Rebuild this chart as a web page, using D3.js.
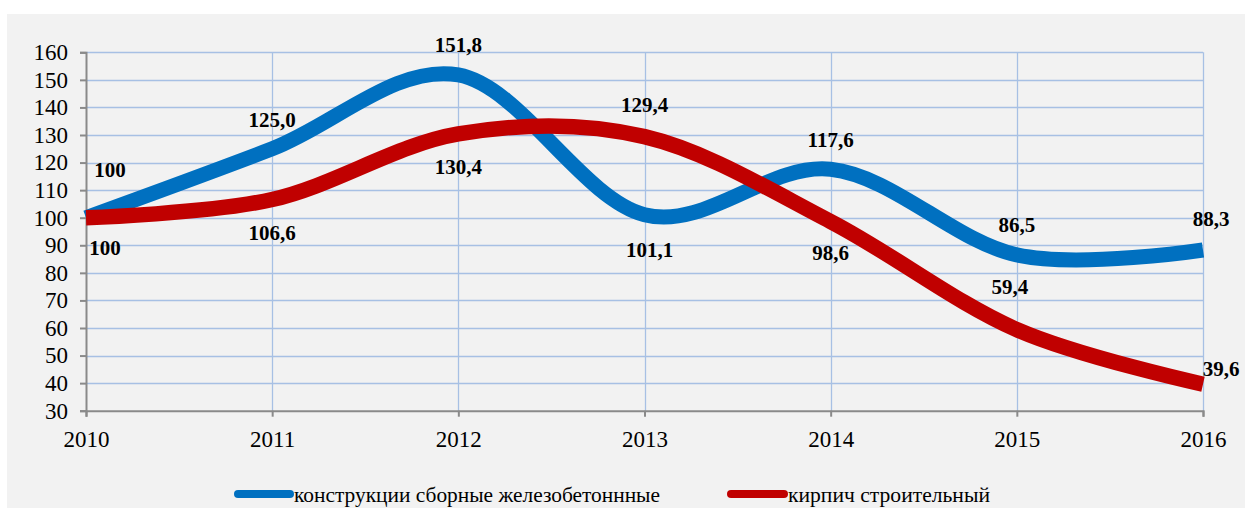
<!DOCTYPE html>
<html>
<head>
<meta charset="utf-8">
<script src="https://cdn.jsdelivr.net/npm/d3@7"></script>
<style>
  html, body { margin: 0; padding: 0; background: #ffffff; }
  svg { display: block; }
</style>
</head>
<body>
<svg id="chart" width="1245" height="509"></svg>
<script>
// ---- data ----
const years = [2010, 2011, 2012, 2013, 2014, 2015, 2016];
const concreteValues = [100, 125.0, 151.8, 101.1, 117.6, 86.5, 88.3];
const brickValues = [100, 106.6, 130.4, 129.4, 98.6, 59.4, 39.6];
const concreteLabels = ["100", "125,0", "151,8", "101,1", "117,6", "86,5", "88,3"];
const brickLabels = ["100", "106,6", "130,4", "129,4", "98,6", "59,4", "39,6"];
const yTicks = [30, 40, 50, 60, 70, 80, 90, 100, 110, 120, 130, 140, 150, 160];
const seriesNames = ["конструкции сборные железобетоннные", "кирпич строительный"];

// ---- label placement (pixels relative to point) ----
const concreteLabelOffsets = [[24, -48], [0, -29], [0, -30], [5, 35], [0, -29], [0, -30], [8, -31]];
const brickLabelOffsets = [[19, 30], [0, 33], [0, 33], [0, -32], [0, 31], [-7, -43], [18, -15]];

const FONT = "'Liberation Serif', 'Times New Roman', Tinos, 'DejaVu Serif', serif";

const svg = d3.select("#chart");
const W = 1245, H = 509;

svg.append("rect").attr("x", 7).attr("y", 14).attr("width", W - 7).attr("height", 494)
  .attr("fill", "#f2f2f2");

const x = d3.scaleLinear().domain([2010, 2016]).range([86, 1203]);
const y = d3.scaleLinear().domain([30, 160]).range([410.7, 52.3]);

const gridColor = "#a7c0e4";
const axisColor = "#8a8a8a";

// grid lines
svg.append("g").selectAll("line.h").data(yTicks.filter(t => t > 30)).join("line")
  .attr("x1", x(2010)).attr("x2", x(2016))
  .attr("y1", d => Math.round(y(d)) + 0.5).attr("y2", d => Math.round(y(d)) + 0.5)
  .attr("stroke", gridColor).attr("stroke-width", 1.3);
svg.append("g").selectAll("line.v").data(years.slice(1)).join("line")
  .attr("x1", d => Math.round(x(d)) + 0.5).attr("x2", d => Math.round(x(d)) + 0.5)
  .attr("y1", y(160)).attr("y2", y(30))
  .attr("stroke", gridColor).attr("stroke-width", 1.3);

// axes
const yAxis = d3.axisLeft(y).tickValues(yTicks).tickSize(6).tickPadding(12).tickFormat(d3.format("d"));
const gy = svg.append("g").attr("transform", `translate(${x(2010)},0)`).call(yAxis)
  .attr("font-family", null).attr("font-size", null);
gy.select(".domain").attr("stroke", axisColor).attr("stroke-width", 2);
gy.selectAll(".tick line").attr("stroke", axisColor).attr("stroke-width", 2);
gy.selectAll(".tick text").style("font-size", "23px").style("font-family", FONT).attr("fill", "#000");

const xAxis = d3.axisBottom(x).tickValues(years).tickSize(6).tickPadding(14).tickFormat(d3.format("d"));
const gx = svg.append("g").attr("transform", `translate(0,${y(30)})`).call(xAxis)
  .attr("font-family", null).attr("font-size", null);
gx.select(".domain").attr("stroke", axisColor).attr("stroke-width", 2);
gx.selectAll(".tick line").attr("stroke", axisColor).attr("stroke-width", 2);
gx.selectAll(".tick text").style("font-size", "23px").style("font-family", FONT).attr("fill", "#000");

// lines
const line = d3.line().x((d, i) => x(years[i])).y(d => y(d)).curve(d3.curveCardinal.tension(0));
svg.append("path").datum(concreteValues).attr("d", line)
  .attr("fill", "none").attr("stroke", "#0070c0").attr("stroke-width", 15);
svg.append("path").datum(brickValues).attr("d", line)
  .attr("fill", "none").attr("stroke", "#c00000").attr("stroke-width", 15.5);

// data labels
function addLabels(values, labels, offsets) {
  svg.append("g").selectAll("text").data(values).join("text")
    .attr("x", (d, i) => x(years[i]) + offsets[i][0])
    .attr("y", (d, i) => y(d) + offsets[i][1] + 7)
    .attr("text-anchor", "middle")
    .style("font-family", FONT).style("font-size", "21px").style("font-weight", "bold")
    .attr("fill", "#000")
    .text((d, i) => labels[i]);
}
addLabels(concreteValues, concreteLabels, concreteLabelOffsets);
addLabels(brickValues, brickLabels, brickLabelOffsets);

// legend
const legendItems = [
  { name: seriesNames[0], color: "#0070c0", x1: 238, x2: 290, tx: 294, tlen: 366 },
  { name: seriesNames[1], color: "#c00000", x1: 731, x2: 784, tx: 788, tlen: 202 }
];
const lg = svg.append("g");
legendItems.forEach(it => {
  lg.append("line").attr("x1", it.x1).attr("x2", it.x2).attr("y1", 494).attr("y2", 494)
    .attr("stroke", it.color).attr("stroke-width", 8).attr("stroke-linecap", "round");
  lg.append("text").attr("x", it.tx).attr("y", 502)
    .style("font-family", FONT).style("font-size", "22px").attr("fill", "#000")
    .attr("textLength", it.tlen).attr("lengthAdjust", "spacingAndGlyphs")
    .text(it.name);
});
</script>
</body>
</html>
